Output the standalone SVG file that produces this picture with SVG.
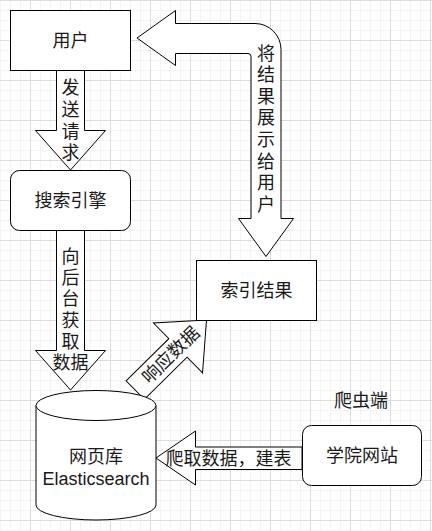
<svg xmlns="http://www.w3.org/2000/svg" width="432" height="531" viewBox="0 0 432 531">
  <defs>
    <pattern id="grid" patternUnits="userSpaceOnUse" x="30" y="0" width="40" height="40">
      <rect x="10" y="0" width="1" height="40" fill="#f3f3f3"/>
      <rect x="20" y="0" width="1" height="40" fill="#f3f3f3"/>
      <rect x="30" y="0" width="1" height="40" fill="#f3f3f3"/>
      <rect x="0" y="10" width="40" height="1" fill="#f3f3f3"/>
      <rect x="0" y="20" width="40" height="1" fill="#f3f3f3"/>
      <rect x="0" y="30" width="40" height="1" fill="#f3f3f3"/>
      <rect x="0" y="0" width="1" height="40" fill="#dcdcdc"/>
      <rect x="0" y="0" width="40" height="1" fill="#dcdcdc"/>
    </pattern>
    <style>
      .shape { fill: #ffffff; stroke: #000000; stroke-width: 1; }
      .lbl { font-family: "Liberation Sans", "Noto Sans CJK SC", sans-serif; font-size: 18px; fill: #1a1a1a; text-anchor: middle; dominant-baseline: central; }
    </style>
  </defs>
  <rect x="0" y="0" width="432" height="531" fill="#ffffff"/>
  <rect x="0" y="0" width="432" height="531" fill="url(#grid)"/>

  <g id="connectors">
    <g id="arrow-send">
      <path class="shape" d="M56.5,70.5 L56.5,130.5 L35.5,130.5 L70.5,170 L105.5,130.5 L84.5,130.5 L84.5,70.5 Z"/>
      <text class="lbl" x="70.5" y="88.3">发</text>
      <text class="lbl" x="70.5" y="109.9">送</text>
      <text class="lbl" x="70.5" y="131.5">请</text>
      <text class="lbl" x="70.5" y="153.1">求</text>
    </g>
    <g id="arrow-fetch">
      <path class="shape" d="M56.5,230.5 L56.5,350.5 L35.5,350.5 L70.5,390 L105.5,350.5 L84.5,350.5 L84.5,230.5 Z"/>
      <text class="lbl" x="70.5" y="256.7">向</text>
      <text class="lbl" x="70.5" y="278">后</text>
      <text class="lbl" x="70.5" y="299.3">台</text>
      <text class="lbl" x="70.5" y="320.6">获</text>
      <text class="lbl" x="70.5" y="341.9">取</text>
      <text class="lbl" x="70.5" y="363.2">数据</text>
    </g>
    <g id="arrow-show">
      <path class="shape" d="M137,38 L175.5,10.5 L175.5,23.5 L255,23.5 A26,26 0 0 1 281,49.5 L281,218.5 L293.5,218.5 L266,256.5 L238.5,218.5 L251,218.5 L251,56.5 A3,3 0 0 0 248,53.5 L175.5,53.5 L175.5,65.5 Z"/>
      <text class="lbl" x="266" y="53.5">将</text>
      <text class="lbl" x="266" y="75.1">结</text>
      <text class="lbl" x="266" y="96.7">果</text>
      <text class="lbl" x="266" y="118.3">展</text>
      <text class="lbl" x="266" y="139.9">示</text>
      <text class="lbl" x="266" y="161.5">给</text>
      <text class="lbl" x="266" y="183.1">用</text>
      <text class="lbl" x="266" y="204.7">户</text>
    </g>
    <g id="arrow-respond" transform="translate(170.85,355) rotate(-44.5)">
      <path class="shape" d="M-50,-13 L10,-13 L10,-35 L50,0 L10,35 L10,13 L-50,13 Z"/>
      <text class="lbl" x="0" y="0">响应数据</text>
    </g>
    <g id="arrow-crawl">
      <path class="shape" d="M302,447 L195.5,447 L195.5,431 L156,458 L195.5,485 L195.5,469.5 L302,469.5 Z"/>
      <text class="lbl" x="228.5" y="458.5">爬取数据，建表</text>
    </g>
  </g>

  <g id="node-user">
    <rect class="shape" x="10.5" y="10.5" width="120" height="60"/>
    <text class="lbl" x="70.5" y="40.5">用户</text>
  </g>
  <g id="node-engine">
    <rect class="shape" x="10.5" y="170.5" width="120" height="60" rx="9" ry="9"/>
    <text class="lbl" x="70.5" y="200.5">搜索引擎</text>
  </g>
  <g id="node-result">
    <rect class="shape" x="196.5" y="260.5" width="120" height="60"/>
    <text class="lbl" x="256.5" y="290.5">索引结果</text>
  </g>
  <g id="node-db">
    <path class="shape" d="M36,405.5 A60,15 0 0 1 156,405.5 L156,505 A60,15 0 0 1 36,505 Z"/>
    <path class="shape" fill="none" d="M36,405.5 A60,15 0 0 0 156,405.5"/>
    <text class="lbl" x="96" y="457">网页库</text>
    <text class="lbl" x="96" y="479">Elasticsearch</text>
  </g>
  <g id="node-site">
    <rect class="shape" x="302.5" y="425.5" width="119" height="60" rx="9" ry="9"/>
    <text class="lbl" x="362" y="455.5">学院网站</text>
  </g>
  <g id="label-crawler">
    <text class="lbl" x="361" y="400.5">爬虫端</text>
  </g>
</svg>
